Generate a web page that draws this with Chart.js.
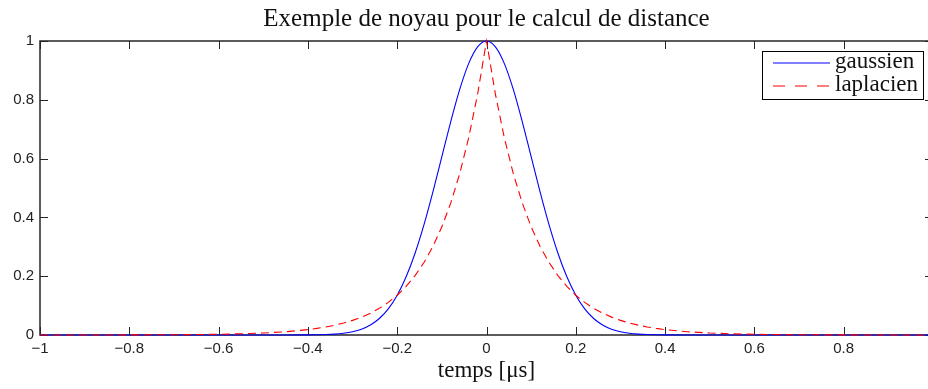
<!DOCTYPE html>
<html>
<head>
<meta charset="utf-8">
<script src="https://cdn.jsdelivr.net/npm/chart.js@4.4.1/dist/chart.umd.min.js"></script>
<style>
  html, body { margin: 0; padding: 0; overflow: hidden; background: #fff; }
</style>
</head>
<body>
<canvas id="noyau" width="938" height="389"></canvas>
<script>
// temps en microsecondes
const temps = [
  -1, -0.95, -0.9, -0.85, -0.8, -0.75, -0.7, -0.65, -0.6, -0.55, -0.5, -0.45,
  -0.4, -0.38, -0.36, -0.34, -0.32, -0.3, -0.28, -0.26, -0.24, -0.22, -0.2,
  -0.18, -0.16, -0.14, -0.12, -0.1, -0.08, -0.06, -0.04, -0.02, 0,
  0.02, 0.04, 0.06, 0.08, 0.1, 0.12, 0.14, 0.16, 0.18, 0.2,
  0.22, 0.24, 0.26, 0.28, 0.3, 0.32, 0.34, 0.36, 0.38, 0.4,
  0.45, 0.5, 0.55, 0.6, 0.65, 0.7, 0.75, 0.8, 0.85, 0.9, 0.95, 1
];

const gaussien = [
  0, 0, 0, 0, 0, 0, 0, 0, 0, 0, 0, 0,
  0.0003, 0.0007, 0.0015, 0.0031, 0.0060, 0.0111, 0.0198, 0.0340, 0.0561, 0.0889, 0.1353,
  0.1979, 0.2780, 0.3753, 0.4868, 0.6065, 0.7261, 0.8353, 0.9231, 0.9802, 1,
  0.9802, 0.9231, 0.8353, 0.7261, 0.6065, 0.4868, 0.3753, 0.2780, 0.1979, 0.1353,
  0.0889, 0.0561, 0.0340, 0.0198, 0.0111, 0.0060, 0.0031, 0.0015, 0.0007, 0.0003,
  0, 0, 0, 0, 0, 0, 0, 0, 0, 0, 0, 0
];

const laplacien = [
  0.00005, 0.0001, 0.0001, 0.0002, 0.0003, 0.0006, 0.0009, 0.0015, 0.0025, 0.0041, 0.0067, 0.0111,
  0.0183, 0.0224, 0.0273, 0.0334, 0.0408, 0.0498, 0.0608, 0.0743, 0.0907, 0.1108, 0.1353,
  0.1653, 0.2019, 0.2466, 0.3012, 0.3679, 0.4493, 0.5488, 0.6703, 0.8187, 1,
  0.8187, 0.6703, 0.5488, 0.4493, 0.3679, 0.3012, 0.2466, 0.2019, 0.1653, 0.1353,
  0.1108, 0.0907, 0.0743, 0.0608, 0.0498, 0.0408, 0.0334, 0.0273, 0.0224, 0.0183,
  0.0111, 0.0067, 0.0041, 0.0025, 0.0015, 0.0009, 0.0006, 0.0003, 0.0002, 0.0001, 0.0001, 0.00005
];

const xTicks = [-1, -0.8, -0.6, -0.4, -0.2, 0, 0.2, 0.4, 0.6, 0.8, 1];
const yTicks = [0, 0.2, 0.4, 0.6, 0.8, 1];

const SERIF = "'Liberation Serif', 'Times New Roman', serif";
const SANS = "'Liberation Sans', Arial, sans-serif";

function fmt(v) {
  if (v === 0) return '0';
  const s = String(Math.abs(+v.toFixed(1)));
  return v < 0 ? '\u2212' + s : s;
}

// cadre + graduations vers l'interieur (style matlab)
const axesBox = {
  id: 'axesBox',
  beforeDatasetsDraw(chart) {
    const {ctx, chartArea: a, scales} = chart;
    ctx.save();
    ctx.strokeStyle = '#262626';
    ctx.lineWidth = 1;
    const tl = 8;
    ctx.beginPath();
    scales.x.ticks.forEach(t => {
      const px = Math.round(scales.x.getPixelForValue(t.value)) + 0.5;
      ctx.moveTo(px, a.bottom); ctx.lineTo(px, a.bottom - tl);
      ctx.moveTo(px, a.top); ctx.lineTo(px, a.top + tl);
    });
    scales.y.ticks.forEach(t => {
      const py = Math.round(scales.y.getPixelForValue(t.value)) + 0.5;
      ctx.moveTo(a.left, py); ctx.lineTo(a.left + tl, py);
      ctx.moveTo(a.right, py); ctx.lineTo(a.right - tl, py);
    });
    ctx.stroke();
    ctx.lineWidth = 1.5;
    ctx.strokeRect(a.left, a.top, a.right - a.left, a.bottom - a.top);
    ctx.restore();
  }
};

// legende encadree en haut a droite
const boxLegend = {
  id: 'boxLegend',
  afterDraw(chart) {
    const {ctx} = chart;
    const x0 = 762, y0 = 51, w = 161, h = 48;
    ctx.save();
    ctx.fillStyle = '#fff';
    ctx.fillRect(x0, y0, w, h);
    ctx.strokeStyle = '#000';
    ctx.lineWidth = 1;
    ctx.strokeRect(x0 + 0.5, y0 + 0.5, w, h);
    ctx.font = '23px ' + SERIF;
    ctx.textBaseline = 'alphabetic';
    chart.data.datasets.forEach((ds, i) => {
      const y = y0 + 12 + i * 23;
      ctx.strokeStyle = ds.borderColor;
      ctx.lineWidth = 1.2;
      ctx.setLineDash(ds.borderDash && ds.borderDash.length ? [12, 10] : []);
      ctx.beginPath();
      ctx.moveTo(773, y); ctx.lineTo(830, y);
      ctx.stroke();
      ctx.setLineDash([]);
      ctx.fillStyle = '#111';
      ctx.fillText(ds.label, 835, y + 5);
    });
    ctx.restore();
  }
};

new Chart(document.getElementById('noyau').getContext('2d'), {
  type: 'scatter',
  data: {
    datasets: [
      {
        label: 'gaussien',
        data: temps.map((t, i) => ({x: t, y: gaussien[i]})),
        showLine: true,
        borderColor: '#0000ff',
        borderWidth: 1.1,
        pointRadius: 0,
        cubicInterpolationMode: 'monotone',
        order: 1,
        clip: 3,
      },
      {
        label: 'laplacien',
        data: temps.map((t, i) => ({x: t, y: laplacien[i]})),
        showLine: true,
        borderColor: '#ff0000',
        borderWidth: 1.1,
        borderDash: [8, 5],
        pointRadius: 0,
        tension: 0,
        order: 0,
        clip: 3,
      }
    ]
  },
  options: {
    responsive: false,
    animation: false,
    layout: {padding: {left: 0, right: 5, top: 0, bottom: 0}},
    plugins: {
      legend: {display: false},
      tooltip: {enabled: false},
      title: {
        display: true,
        fullSize: false,
        text: 'Exemple de noyau pour le calcul de distance',
        color: '#111',
        font: {family: SERIF, size: 25, weight: 'normal'},
        padding: {top: 4, bottom: 7},
      },
    },
    scales: {
      x: {
        type: 'linear',
        min: -1, max: 1,
        afterBuildTicks: s => { s.ticks = xTicks.map(v => ({value: v})); },
        afterFit: s => { s.height = 54; },
        grid: {display: false, drawTicks: false},
        border: {display: false},
        ticks: {
          padding: 5,
          color: '#222',
          font: {family: SANS, size: 15},
          maxRotation: 0,
          autoSkip: false,
          callback: v => (v === 1 ? '' : fmt(v)),
        },
        title: {
          display: true,
          text: 'temps [\u03bcs]',
          color: '#111',
          font: {family: SERIF, size: 23},
          padding: {top: 0, bottom: 4},
        },
      },
      y: {
        type: 'linear',
        min: 0, max: 1,
        afterBuildTicks: s => { s.ticks = yTicks.map(v => ({value: v})); },
        afterFit: s => { s.width = 40; },
        grid: {display: false, drawTicks: false},
        border: {display: false},
        ticks: {
          padding: 6,
          color: '#222',
          font: {family: SANS, size: 15},
          callback: v => fmt(v),
        },
      },
    },
  },
  plugins: [axesBox, boxLegend],
});
</script>
</body>
</html>
